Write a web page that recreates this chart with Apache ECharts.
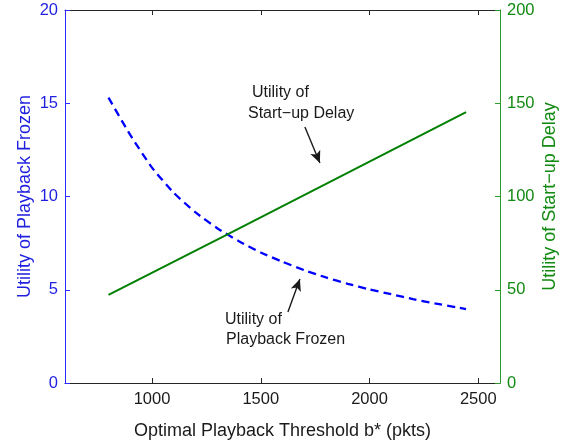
<!DOCTYPE html>
<html>
<head>
<meta charset="utf-8">
<script src="https://cdn.jsdelivr.net/npm/echarts@6/dist/echarts.min.js"></script>
<style>
  html, body { margin: 0; padding: 0; background: #ffffff; }
  #chart { width: 570px; height: 440px; }
</style>
</head>
<body>
<div id="chart"></div>
<script>
// Playback threshold b* (pkts) and the two utilities
const frozenX = [800, 900, 1000, 1100, 1200, 1300, 1400, 1500, 1600, 1700, 1800, 1900, 2000, 2100, 2200, 2300, 2400, 2444];
const frozenY = [15.3, 13.3, 11.55, 10.2, 9.15, 8.3, 7.6, 7.0, 6.5, 6.05, 5.66, 5.32, 5.02, 4.76, 4.5, 4.27, 4.06, 3.96];
const delayX = [800, 1336, 2444];
const delayY = [47.2, 79.0, 145.2];
const xTicks = [1000, 1500, 2000, 2500];

const BLUE = '#0000ff';
const BLUE_TXT = '#1f1fe0';
const GREEN = '#008000';
const GREEN_TXT = '#128a12';
const INK = '#1a1a1a';
const FONT = '"Liberation Sans", Arial, sans-serif';

const pairs = (xs, ys) => xs.map((x, i) => [x, ys[i]]);

const chart = echarts.init(document.getElementById('chart'), null, { renderer: 'canvas' });

chart.setOption({
  animation: false,
  backgroundColor: '#ffffff',
  textStyle: { fontFamily: FONT },
  grid: { left: 65, right: 70, top: 10, bottom: 57, outerBoundsMode: 'none' },
  xAxis: [
    {
      type: 'value', min: 600, max: 2600, position: 'bottom',
      axisLine: { show: true, onZero: false, lineStyle: { color: '#262626', width: 1 } },
      axisTick: { show: true, inside: true, length: 5, customValues: xTicks, lineStyle: { color: '#262626' } },
      axisLabel: { customValues: xTicks, formatter: v => String(v), color: INK, fontSize: 16.5, margin: 8, fontFamily: FONT },
      splitLine: { show: false },
      name: 'Optimal Playback Threshold b* (pkts)',
      nameLocation: 'middle', nameGap: 39, nameMoveOverlap: false,
      nameTextStyle: { color: INK, fontSize: 18, fontFamily: FONT }
    },
    {
      type: 'value', min: 600, max: 2600, position: 'top',
      axisLine: { show: true, onZero: false, lineStyle: { color: '#262626', width: 1 } },
      axisTick: { show: true, inside: true, length: 5, customValues: xTicks, lineStyle: { color: '#262626' } },
      axisLabel: { show: false },
      splitLine: { show: false }
    }
  ],
  yAxis: [
    {
      type: 'value', min: 0, max: 20, interval: 5, position: 'left',
      axisLine: { show: true, onZero: false, lineStyle: { color: '#2a2aff', width: 1 } },
      axisTick: { show: true, inside: true, length: 5, lineStyle: { color: '#2a2aff' } },
      axisLabel: { color: BLUE_TXT, fontSize: 16.5, margin: 7, fontFamily: FONT },
      splitLine: { show: false },
      name: 'Utility of Playback Frozen',
      nameLocation: 'middle', nameGap: 31, nameRotate: 90, nameMoveOverlap: false,
      nameTextStyle: { color: BLUE_TXT, fontSize: 18, fontFamily: FONT }
    },
    {
      type: 'value', min: 0, max: 200, interval: 50, position: 'right',
      axisLine: { show: true, onZero: false, lineStyle: { color: '#2a9a2a', width: 1 } },
      axisTick: { show: true, inside: true, length: 5, lineStyle: { color: '#2a9a2a' } },
      axisLabel: { color: GREEN_TXT, fontSize: 16.5, margin: 7, fontFamily: FONT },
      splitLine: { show: false },
      name: 'Utility of Start\u2212up Delay',
      nameLocation: 'middle', nameGap: 41, nameRotate: 90, nameMoveOverlap: false,
      nameTextStyle: { color: GREEN_TXT, fontSize: 18, fontFamily: FONT }
    }
  ],
  series: [
    {
      name: 'Utility of Playback Frozen',
      type: 'line', xAxisIndex: 0, yAxisIndex: 0,
      data: pairs(frozenX, frozenY),
      showSymbol: false, smooth: 0.2,
      lineStyle: { color: BLUE, width: 2.3, type: [8, 5] },
      markLine: {
        silent: true, symbol: ['none', 'arrow'], symbolSize: [8, 12],
        label: { show: false },
        lineStyle: { color: INK, width: 1.4, type: 'solid' },
        data: [[{ coord: [1625, 3.81] }, { coord: [1680, 5.58] }]]
      }
    },
    {
      name: 'Utility of Start-up Delay',
      type: 'line', xAxisIndex: 0, yAxisIndex: 1,
      data: pairs(delayX, delayY),
      showSymbol: false,
      lineStyle: { color: GREEN, width: 2 },
      markLine: {
        silent: true, symbol: ['none', 'arrow'], symbolSize: [8, 12],
        label: { show: false },
        lineStyle: { color: INK, width: 1.4, type: 'solid' },
        data: [[{ coord: [1703, 137.3] }, { coord: [1772, 118.0] }]]
      }
    }
  ],
  graphic: [
    { type: 'text', left: 252, top: 85, style: { text: 'Utility of', font: '16px ' + FONT, fill: INK } },
    { type: 'text', left: 248, top: 106, style: { text: 'Start\u2212up Delay', font: '16px ' + FONT, fill: INK } },
    { type: 'text', left: 225, top: 312, style: { text: 'Utility of', font: '16px ' + FONT, fill: INK } },
    { type: 'text', left: 226, top: 332, style: { text: 'Playback Frozen', font: '16px ' + FONT, fill: INK } }
  ]
});
</script>
</body>
</html>
